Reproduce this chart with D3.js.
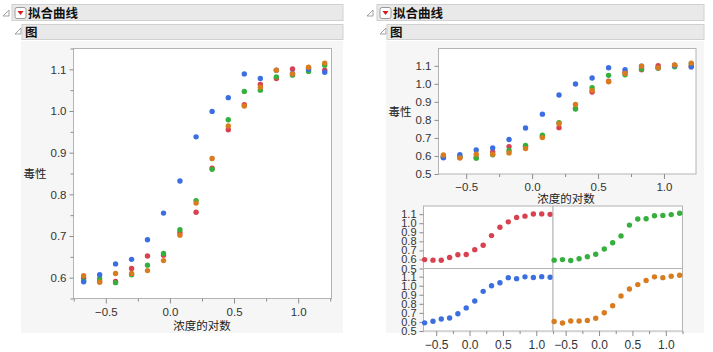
<!DOCTYPE html>
<html>
<head>
<meta charset="utf-8">
<script src="https://cdn.jsdelivr.net/npm/d3@7"></script>
<style>
  body { margin: 0; background: #ffffff; }
  svg { display: block; font-family: "Open Sans", "Noto Sans", "Noto Sans CJK SC", sans-serif; }
  .tick text { fill: #333; font-size: 11px; }
  .tick line, .domain { stroke: #8c8c8c; }
  .cjk { font-family: "Noto Sans CJK SC", sans-serif; }
</style>
</head>
<body>
<svg id="chart" width="713" height="352"></svg>
<script>
// log concentration (x) shared by all series
var logConc = [-0.673, -0.548, -0.424, -0.299, -0.175, -0.05, 0.078, 0.204,
               0.329, 0.455, 0.58, 0.705, 0.83, 0.956, 1.081, 1.207];

// toxicity values per series
var redVals    = [0.598, 0.592, 0.591, 0.622, 0.652, 0.654, 0.708, 0.757,
                  0.863, 0.955, 1.015, 1.064, 1.078, 1.101, 1.103, 1.098];
var greenVals  = [0.592, 0.598, 0.588, 0.607, 0.630, 0.658, 0.715, 0.785,
                  0.860, 0.979, 1.047, 1.050, 1.082, 1.086, 1.095, 1.110];
var blueVals   = [0.590, 0.607, 0.633, 0.644, 0.691, 0.755, 0.832, 0.938,
                  0.999, 1.032, 1.089, 1.078, 1.098, 1.090, 1.100, 1.093];
var orangeVals = [0.605, 0.589, 0.610, 0.610, 0.617, 0.641, 0.702, 0.779,
                  0.886, 0.964, 1.012, 1.057, 1.098, 1.089, 1.105, 1.115];

var seriesColors = ["#d8414f", "#35b03d", "#3b6fe0", "#d97b1f"];
var seriesVals = [redVals, greenVals, blueVals, orangeVals];

var xTickVals = [-0.5, 0.0, 0.5, 1.0];
var xMinorVals = [-0.75, -0.25, 0.25, 0.75, 1.25];
var yTickVals = [0.5, 0.6, 0.7, 0.8, 0.9, 1.0, 1.1];

var titleText = "拟合曲线";
var subTitleText = "图";
var xLabel = "浓度的对数";
var yLabel = "毒性";

var svg = d3.select("#chart");
var fmt = d3.format(".1f");

// builds rows of {x, y, color} for the given series indices
function makePoints(idxList){
    var pts = [];
    idxList.forEach(function(s){
        seriesVals[s].forEach(function(v, i){
            pts.push({x: logConc[i], y: v, color: seriesColors[s]});
        });
    });
    return pts;
}

// header bars with disclosure triangle
function drawHeaders(x0, bar1, bar2, width){
    svg.append("rect").attr("x", x0 + bar2.x - 1).attr("y", 41).attr("width", width - bar2.x + 1).attr("height", 292)
        .attr("fill", "#f6f6f6");

    svg.append("path").attr("d", "M" + (x0 + 3) + ",16 L" + (x0 + 9) + ",16 L" + (x0 + 9) + ",10 Z")
        .attr("fill", "none").attr("stroke", "#8a8a8a").attr("stroke-width", 0.8);
    svg.append("rect").attr("x", x0 + bar1.x).attr("y", 4.5).attr("width", width - bar1.x).attr("height", 16)
        .attr("fill", "#e9e9e9").attr("stroke", "#d0d0d0");
    svg.append("rect").attr("x", x0 + bar1.x + 3).attr("y", 7.5).attr("width", 11).attr("height", 11).attr("rx", 2)
        .attr("fill", "#fff").attr("stroke", "#9a9a9a");
    var bx = x0 + bar1.x + 3;
    svg.append("path").attr("d", "M" + (bx + 2.5) + ",11 L" + (bx + 8.5) + ",11 L" + (bx + 5.5) + ",15 Z")
        .attr("fill", "#d61a1a");
    svg.append("text").attr("class", "cjk").attr("x", x0 + bar1.x + 16).attr("y", 17.5)
        .attr("font-size", 12.5).attr("font-weight", "bold").attr("fill", "#111").text(titleText);

    svg.append("path").attr("d", "M" + (x0 + bar2.x - 7) + ",34 L" + (x0 + bar2.x - 1) + ",34 L" + (x0 + bar2.x - 1) + ",28 Z")
        .attr("fill", "none").attr("stroke", "#8a8a8a").attr("stroke-width", 0.8);
    svg.append("rect").attr("x", x0 + bar2.x).attr("y", 24.5).attr("width", width - bar2.x).attr("height", 15)
        .attr("fill", "#e9e9e9").attr("stroke", "#d0d0d0");
    svg.append("text").attr("class", "cjk").attr("x", x0 + bar2.x + 3).attr("y", 36.5)
        .attr("font-size", 12.5).attr("font-weight", "bold").attr("fill", "#111").text(subTitleText);
}

// one framed scatter cell
function drawCell(o){
    var g = svg.append("g");
    var x = d3.scaleLinear().domain(o.xDom).range([o.left, o.right]);
    var y = d3.scaleLinear().domain(o.yDom).range([o.bottom, o.top]);

    g.append("rect").attr("x", o.left).attr("y", o.top)
        .attr("width", o.right - o.left).attr("height", o.bottom - o.top)
        .attr("fill", "#fff").attr("stroke", "#b4b4b4");

    if(o.yAxis){
        var ya = g.append("g").attr("transform", "translate(" + o.left + ",0)")
            .call(d3.axisLeft(y).tickValues(o.yTicks.filter(function(t){ return t >= o.yDom[0] - 1e-9 && t <= o.yDom[1]; }))
                .tickFormat(fmt).tickSize(4).tickSizeOuter(0));
        ya.select(".domain").remove();
        ya.selectAll("text").style("font-size", o.yFont + "px");
        if(o.yMinor){
            var ym = g.append("g").attr("transform", "translate(" + o.left + ",0)")
                .call(d3.axisLeft(y).tickValues(o.yMinor).tickFormat("").tickSize(3));
            ym.select(".domain").remove();
        }
    }
    if(o.xAxis){
        var xa = g.append("g").attr("transform", "translate(0," + o.bottom + ")")
            .call(d3.axisBottom(x).tickValues(xTickVals).tickFormat(fmt).tickSize(5).tickPadding(4));
        xa.select(".domain").remove();
        xa.selectAll("text").style("font-size", o.xFont + "px");
        var xm = g.append("g").attr("transform", "translate(0," + o.bottom + ")")
            .call(d3.axisBottom(x).tickValues(xMinorVals.filter(function(t){ return t >= o.xDom[0] && t <= o.xDom[1]; }))
                .tickFormat("").tickSize(3));
        xm.select(".domain").remove();
    }

    g.selectAll("circle").data(makePoints(o.series)).enter().append("circle")
        .attr("cx", function(d){ return x(d.x); })
        .attr("cy", function(d){ return y(d.y); })
        .attr("r", 2.7)
        .attr("fill", function(d){ return d.color; });
    return g;
}

// ---- left panel ----
drawHeaders(0, {x: 12}, {x: 22}, 343);
drawCell({left: 73.5, right: 331.5, top: 48.5, bottom: 298.5,
    xDom: [-0.752, 1.26], yDom: [0.55, 1.15],
    yAxis: true, xAxis: true, yTicks: yTickVals, yMinor: [0.55, 0.65, 0.75, 0.85, 0.95, 1.05, 1.15],
    yFont: 11.5, xFont: 11.5, series: [0, 1, 2, 3]});
svg.append("text").attr("class", "cjk").attr("x", 35).attr("y", 178).attr("text-anchor", "middle")
    .attr("font-size", 11.5).attr("fill", "#222").text(yLabel);
svg.append("text").attr("class", "cjk").attr("x", 202).attr("y", 330).attr("text-anchor", "middle")
    .attr("font-size", 11.5).attr("fill", "#222").text(xLabel);

// ---- right panel ----
drawHeaders(364, {x: 13}, {x: 23}, 340);
drawCell({left: 438.5, right: 696, top: 48.5, bottom: 174,
    xDom: [-0.71, 1.243], yDom: [0.5, 1.196],
    yAxis: true, xAxis: true, yTicks: yTickVals, yMinor: null,
    yFont: 11.5, xFont: 11.5, series: [0, 1, 2, 3]});
svg.append("text").attr("class", "cjk").attr("x", 400).attr("y", 116).attr("text-anchor", "middle")
    .attr("font-size", 11.5).attr("fill", "#222").text(yLabel);
svg.append("text").attr("class", "cjk").attr("x", 566).attr("y", 203).attr("text-anchor", "middle")
    .attr("font-size", 11.5).attr("fill", "#222").text(xLabel);

// small multiples, one series per cell
var smCells = [
    {series: [0], col: 0, row: 0},
    {series: [1], col: 1, row: 0},
    {series: [2], col: 0, row: 1},
    {series: [3], col: 1, row: 1}
];
var smLeft = 423.5, smW = 129.5, smTop = 206, smH = 62.5;
smCells.forEach(function(c){
    drawCell({left: smLeft + c.col * smW, right: smLeft + (c.col + 1) * smW,
        top: smTop + c.row * smH, bottom: smTop + (c.row + 1) * smH,
        xDom: [-0.69, 1.25], yDom: [0.5, 1.19],
        yAxis: c.col == 0, xAxis: c.row == 1, yTicks: yTickVals, yMinor: null,
        yFont: 11, xFont: 12, series: c.series});
});
</script>
</body>
</html>
